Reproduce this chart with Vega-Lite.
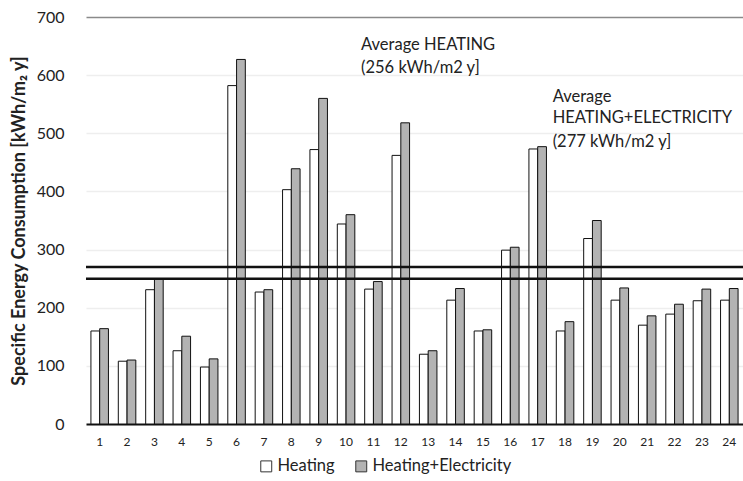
{
  "$schema": "https://vega.github.io/schema/vega-lite/v6.json",
  "width": 657,
  "height": 407,
  "autosize": {"type": "none"},
  "padding": {"left": 86, "top": 17, "right": 0, "bottom": 57},
  "background": "white",
  "config": {
    "font": "Lato",
    "view": {"stroke": null}
  },
  "datasets": {
    "bars": [
      {"cat": 1, "series": "Heating", "value": 160}, {"cat": 1, "series": "Heating+Electricity", "value": 164},
      {"cat": 2, "series": "Heating", "value": 108}, {"cat": 2, "series": "Heating+Electricity", "value": 110},
      {"cat": 3, "series": "Heating", "value": 231}, {"cat": 3, "series": "Heating+Electricity", "value": 250},
      {"cat": 4, "series": "Heating", "value": 126}, {"cat": 4, "series": "Heating+Electricity", "value": 151},
      {"cat": 5, "series": "Heating", "value": 98}, {"cat": 5, "series": "Heating+Electricity", "value": 112},
      {"cat": 6, "series": "Heating", "value": 582}, {"cat": 6, "series": "Heating+Electricity", "value": 627},
      {"cat": 7, "series": "Heating", "value": 227}, {"cat": 7, "series": "Heating+Electricity", "value": 231},
      {"cat": 8, "series": "Heating", "value": 403}, {"cat": 8, "series": "Heating+Electricity", "value": 439},
      {"cat": 9, "series": "Heating", "value": 472}, {"cat": 9, "series": "Heating+Electricity", "value": 560},
      {"cat": 10, "series": "Heating", "value": 344}, {"cat": 10, "series": "Heating+Electricity", "value": 360},
      {"cat": 11, "series": "Heating", "value": 232}, {"cat": 11, "series": "Heating+Electricity", "value": 245},
      {"cat": 12, "series": "Heating", "value": 462}, {"cat": 12, "series": "Heating+Electricity", "value": 518},
      {"cat": 13, "series": "Heating", "value": 120}, {"cat": 13, "series": "Heating+Electricity", "value": 126},
      {"cat": 14, "series": "Heating", "value": 213}, {"cat": 14, "series": "Heating+Electricity", "value": 233},
      {"cat": 15, "series": "Heating", "value": 160}, {"cat": 15, "series": "Heating+Electricity", "value": 162},
      {"cat": 16, "series": "Heating", "value": 299}, {"cat": 16, "series": "Heating+Electricity", "value": 304},
      {"cat": 17, "series": "Heating", "value": 473}, {"cat": 17, "series": "Heating+Electricity", "value": 477},
      {"cat": 18, "series": "Heating", "value": 160}, {"cat": 18, "series": "Heating+Electricity", "value": 176},
      {"cat": 19, "series": "Heating", "value": 319}, {"cat": 19, "series": "Heating+Electricity", "value": 350},
      {"cat": 20, "series": "Heating", "value": 213}, {"cat": 20, "series": "Heating+Electricity", "value": 234},
      {"cat": 21, "series": "Heating", "value": 170}, {"cat": 21, "series": "Heating+Electricity", "value": 186},
      {"cat": 22, "series": "Heating", "value": 189}, {"cat": 22, "series": "Heating+Electricity", "value": 206},
      {"cat": 23, "series": "Heating", "value": 212}, {"cat": 23, "series": "Heating+Electricity", "value": 232},
      {"cat": 24, "series": "Heating", "value": 213}, {"cat": 24, "series": "Heating+Electricity", "value": 233}
    ],
    "averages": [
      {"name": "Average HEATING", "value": 250},
      {"name": "Average HEATING+ELECTRICITY", "value": 270}
    ],
    "notes": [
      {"cat": 10, "value": 652, "label": "Average HEATING"},
      {"cat": 10, "value": 613, "label": "(256 kWh/m2 y]"},
      {"cat": 17, "value": 563, "label": "Average"},
      {"cat": 17, "value": 527, "label": "HEATING+ELECTRICITY"},
      {"cat": 17, "value": 485, "label": "(277 kWh/m2 y]"}
    ]
  },
  "layer": [
    {
      "data": {"name": "bars"},
      "mark": {"type": "bar", "stroke": "#111111", "strokeWidth": 1},
      "encoding": {
        "x": {
          "field": "cat", "type": "ordinal",
          "scale": {"paddingInner": 0.36, "paddingOuter": 0.18},
          "axis": {
            "title": null, "labelAngle": 0, "labelFontSize": 12, "labelColor": "#222222",
            "ticks": false, "domain": true, "domainColor": "#111111", "domainWidth": 2,
            "labelPadding": 12
          }
        },
        "xOffset": {"field": "series", "type": "nominal", "scale": {"domain": ["Heating", "Heating+Electricity"], "paddingInner": 0}},
        "y": {
          "field": "value", "type": "quantitative",
          "scale": {"domain": [0, 700], "nice": false},
          "axis": {
            "title": "Specific Energy Consumption [kWh/m₂ y]",
            "titleFontSize": 18, "titleFontWeight": "bold", "titleColor": "#222222", "titlePadding": 8,
            "values": [0, 100, 200, 300, 400, 500, 600, 700],
            "labelFontSize": 16, "labelColor": "#222222", "labelPadding": 22,
            "ticks": false, "domain": false,
            "gridColor": {"condition": {"test": "datum.value === 700", "value": "#8a8a8a"}, "value": "#eeeeee"},
            "gridWidth": 1.5
          }
        },
        "fill": {
          "field": "series", "type": "nominal",
          "scale": {"domain": ["Heating", "Heating+Electricity"], "range": ["#ffffff", "#b3b3b3"]},
          "legend": {
            "title": null, "orient": "none", "direction": "horizontal", "legendX": 172, "legendY": 441,
            "symbolType": "square", "symbolSize": 120, "symbolStrokeColor": "#333333", "symbolStrokeWidth": 1,
            "labelFontSize": 16.5, "labelColor": "#222222", "columnPadding": 18, "labelOffset": 3
          }
        }
      }
    },
    {
      "data": {"name": "averages"},
      "mark": {"type": "rule", "color": "#111111", "strokeWidth": 2.5},
      "encoding": {
        "y": {"field": "value", "type": "quantitative"}
      }
    },
    {
      "data": {"name": "notes"},
      "mark": {"type": "text", "align": "left", "baseline": "middle", "fontSize": 16.5, "color": "#222222", "dx": 15},
      "encoding": {
        "x": {"field": "cat", "type": "ordinal"},
        "y": {"field": "value", "type": "quantitative"},
        "text": {"field": "label"}
      }
    }
  ]
}
